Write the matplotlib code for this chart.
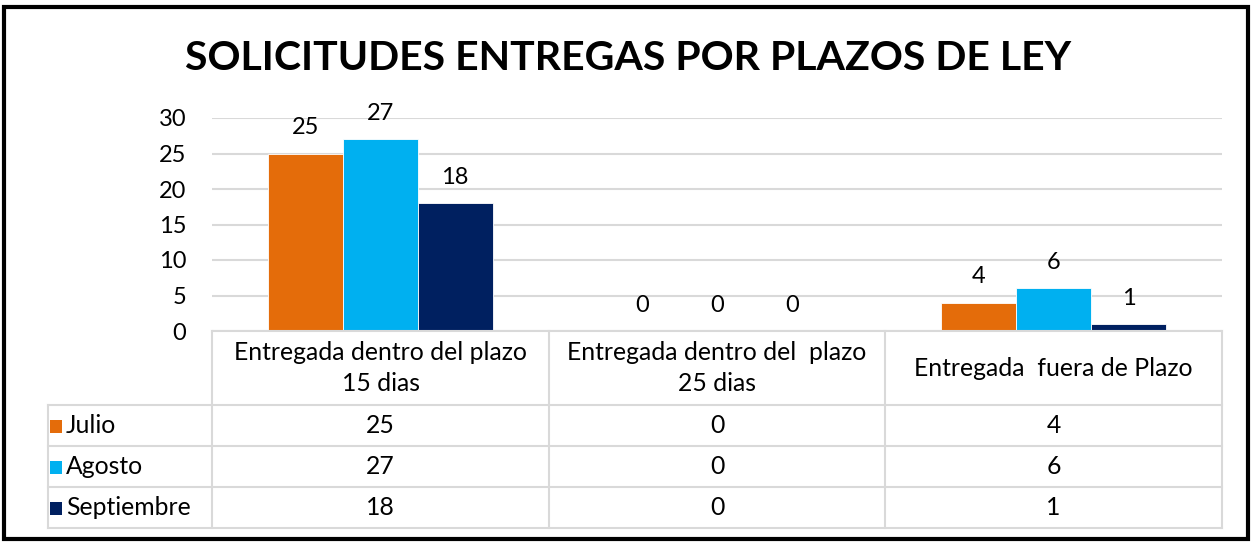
import matplotlib
matplotlib.use("Agg")
import matplotlib.pyplot as plt
from matplotlib.lines import Line2D
from matplotlib.patches import Rectangle
import numpy as np

plt.rcParams['font.family'] = ['Lato', 'DejaVu Sans']

title = "SOLICITUDES ENTREGAS POR PLAZOS DE LEY"
categories = ["Entregada dentro del plazo\n15 dias",
              "Entregada dentro del  plazo\n25 dias",
              "Entregada  fuera de Plazo"]
series_names = ["Julio", "Agosto", "Septiembre"]
julio = [25, 0, 4]
agosto = [27, 0, 6]
septiembre = [18, 0, 1]
yticks = [0, 5, 10, 15, 20, 25, 30]
colors = ["#E46C0A", "#00B0F0", "#002060"]

W, H = 1252, 543
fig = plt.figure(figsize=(W / 100, H / 100), dpi=100)

def fx(x):
    return x / W

def fy(y):
    return 1 - y / H

FS = 17
TFS = 17.8

# plot area in pixels
L, R, T, B = 212, 1222, 118, 331
ax = fig.add_axes([fx(L), fy(B), fx(R) - fx(L), fy(T) - fy(B)])
ax.set_xlim(0, 3)
ax.set_ylim(0, 30)
ax.set_yticks(yticks)
ax.set_xticks([])
for s in ax.spines.values():
    s.set_visible(False)
ax.tick_params(axis='y', length=0, pad=18.5, labelsize=FS)
ax.grid(axis='y', color='#d9d9d9', lw=1.5)
ax.set_axisbelow(True)

data = [julio, agosto, septiembre]
bw = 0.667 / 3
x = np.arange(3) + 0.5
for i, (vals, c) in enumerate(zip(data, colors)):
    pos = x + (i - 1) * bw
    ax.bar(pos, vals, width=bw, color=c, edgecolor='white', linewidth=0.6, zorder=2)
    for xp, v in zip(pos, vals):
        ax.annotate(str(v), (xp, v), xytext=(0, 18.5), textcoords='offset points',
                    ha='center', va='center', fontsize=FS)

# title
fig.text(fx(628), fy(58), title, ha='center', va='center', fontsize=29.5,
         fontweight='bold')

# table
gc = '#d9d9d9'
lw = 1.5
cols = [L, 549, 885, R]
rows = [B, 405, 446, 487, 528]
TL = 48

def hline(x0, x1, y):
    fig.add_artist(Line2D([fx(x0), fx(x1)], [fy(y), fy(y)], color=gc, lw=lw))

def vline(x, y0, y1):
    fig.add_artist(Line2D([fx(x), fx(x)], [fy(y0), fy(y1)], color=gc, lw=lw))

hline(L, R, rows[0])
for y in rows[1:]:
    hline(TL, R, y)
for xc in cols:
    vline(xc, rows[0], rows[-1])
vline(TL, rows[1], rows[-1])

for j, cat in enumerate(categories):
    cx = (cols[j] + cols[j + 1]) / 2
    fig.text(fx(cx), fy((rows[0] + rows[1]) / 2), cat, ha='center', va='center',
             fontsize=TFS, linespacing=1.42)

for i, (name, vals, c) in enumerate(zip(series_names, data, colors)):
    cy = (rows[i + 1] + rows[i + 2]) / 2
    fig.add_artist(Rectangle((fx(50), fy(cy + 7)), fx(12), 13 / H,
                             facecolor=c, edgecolor='none'))
    fig.text(fx(66), fy(cy), name, ha='left', va='center', fontsize=TFS)
    for j, v in enumerate(vals):
        cx = (cols[j] + cols[j + 1]) / 2
        fig.text(fx(cx), fy(cy), str(v), ha='center', va='center', fontsize=TFS)

# outer border
fig.add_artist(Rectangle((fx(4), fy(539)), fx(1244), (539 - 7) / H, fill=False,
                         edgecolor='black', lw=3))

fig.savefig("out.png", dpi=100)
